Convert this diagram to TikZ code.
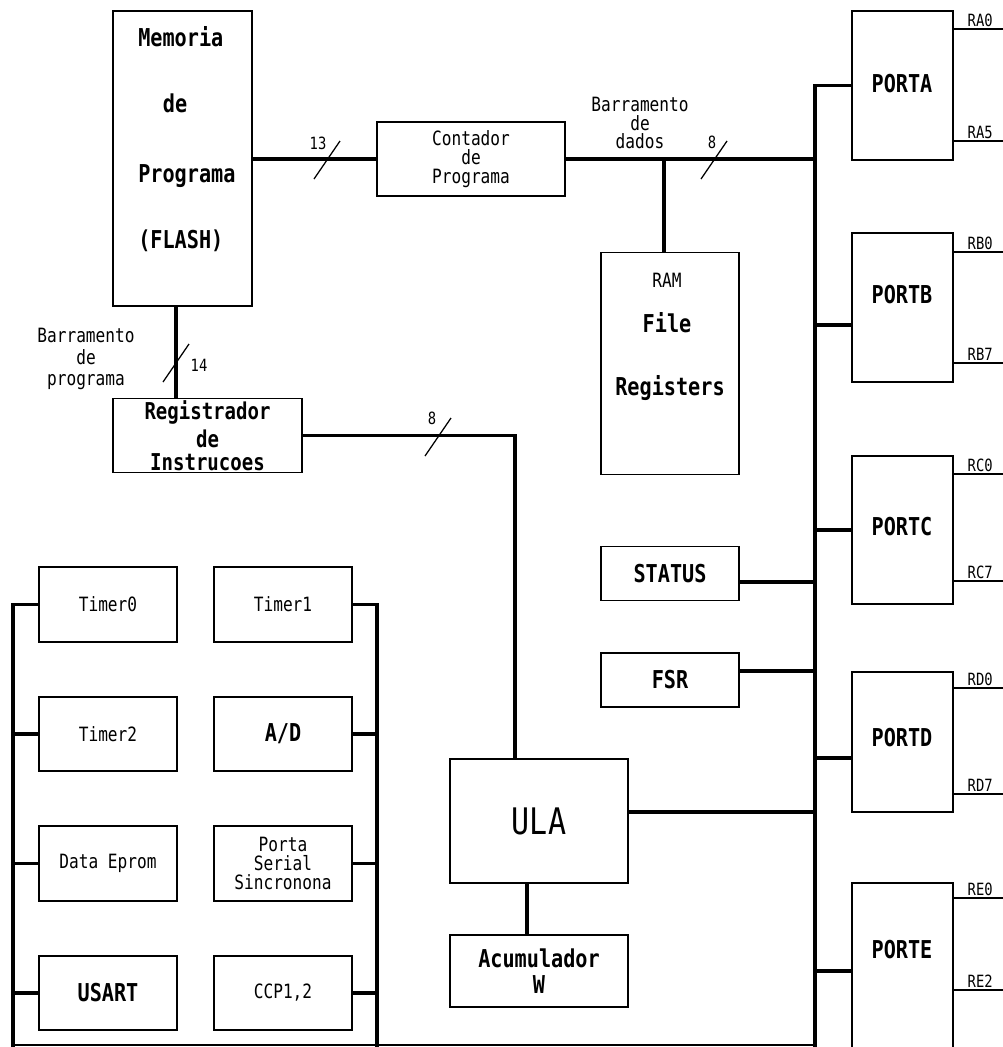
\documentclass[tikz,border=0pt]{standalone}
\usepackage{fontspec}
\newfontfamily\cadfont[FakeStretch=0.82]{DejaVu Sans Mono}
\newlength\pxu
\setlength\pxu{0.025cm}
\tikzset{
  box/.style={draw, line width=1.1pt, inner sep=0pt, align=center},
  bus/.style={line width=2.8pt},
  pbus/.style={line width=2.3pt},
  pin/.style={line width=1.2pt},
  slash/.style={line width=0.9pt},
  bigtxt/.style={font=\cadfont\bfseries\fontsize{17.5}{13.5}\selectfont, inner sep=0pt, align=center},
  smalltxt/.style={font=\cadfont\fontsize{14}{13.3}\selectfont, inner sep=0pt, align=center},
  pintxt/.style={font=\cadfont\fontsize{12}{12}\selectfont, inner sep=1pt},
  ulatxt/.style={font=\cadfont\fontsize{26}{26}\selectfont, inner sep=0pt},
}

\begin{document}
\begin{tikzpicture}[x=0.025cm, y=-0.025cm]
	\useasboundingbox (0,0) rectangle (1003,1047);
	\clip (0,0) rectangle (1003,1047);

	% memoria de programa e contador
	\node[box, minimum width=139\pxu, minimum height=295\pxu] (mem) at (182.5,158.5) {};
	\node[bigtxt, anchor=west] (memt1) at (138,37) {Memoria};
	\node[bigtxt] (memt2) at (175,103) {de};
	\node[bigtxt, anchor=west] (memt3) at (138,176) {Programa};
	\node[bigtxt, anchor=west] (memt4) at (138,241) {(FLASH)};
	\node[box, smalltxt, minimum width=188\pxu, minimum height=74\pxu] (pc) at (471,159) {Contador\\de\\Programa};

	% ram
	\node[box, minimum width=138\pxu, minimum height=222\pxu] (ram) at (670,363.5) {};
	\node[smalltxt] (ramt1) at (667,280) {RAM};
	\node[bigtxt] (ramt2) at (667,323) {File};
	\node[bigtxt] (ramt3) at (670,388) {Registers};

	\node[box, bigtxt, font=\cadfont\bfseries\fontsize{16.5}{13}\selectfont, minimum width=189\pxu, minimum height=74\pxu] (reg) at (207.5,435.5) {Registrador\\[3pt]de\\[3pt]Instrucoes};
	\node[box, bigtxt, minimum width=138\pxu, minimum height=54\pxu] (status) at (670,573.5) {STATUS};
	\node[box, bigtxt, minimum width=138\pxu, minimum height=54\pxu] (fsr) at (670,680) {FSR};
	\node[box, ulatxt, minimum width=178\pxu, minimum height=124\pxu] (ula) at (539,821) {ULA};
	\node[box, bigtxt, minimum width=178\pxu, minimum height=72\pxu] (acc) at (539,971) {Acumulador\\[5pt]W};

	% portas
	\node[box, minimum width=101\pxu, minimum height=149\pxu] (porta) at (902.5,85.5) {};
	\node[box, minimum width=101\pxu, minimum height=149\pxu] (portb) at (902.5,307.5) {};
	\node[box, minimum width=101\pxu, minimum height=148\pxu] (portc) at (902.5,530) {};
	\node[box, minimum width=101\pxu, minimum height=140\pxu] (portd) at (902.5,742) {};
	\node[box, minimum width=101\pxu, minimum height=214\pxu] (porte) at (902.5,990) {};
	\node[bigtxt] (portat) at (902,84) {PORTA};
	\node[bigtxt] (portbt) at (902,295) {PORTB};
	\node[bigtxt] (portct) at (902,527) {PORTC};
	\node[bigtxt] (portdt) at (902,738) {PORTD};
	\node[bigtxt] (portet) at (902,950) {PORTE};

	% perifericos
	\node[box, smalltxt, minimum width=138\pxu, minimum height=75\pxu] (tmr0) at (108,604.5) {Timer0};
	\node[box, smalltxt, minimum width=138\pxu, minimum height=75\pxu] (tmr1) at (283,604.5) {Timer1};
	\node[box, smalltxt, minimum width=138\pxu, minimum height=74\pxu] (tmr2) at (108,734) {Timer2};
	\node[box, bigtxt, minimum width=138\pxu, minimum height=74\pxu] (ad) at (283,734) {A/D};
	\node[box, smalltxt, minimum width=138\pxu, minimum height=75\pxu] (eprom) at (108,863.5) {Data Eprom};
	\node[box, smalltxt, minimum width=138\pxu, minimum height=75\pxu] (serial) at (283,863.5) {Porta\\Serial\\Sincronona};
	\node[box, bigtxt, minimum width=138\pxu, minimum height=74\pxu] (usart) at (108,993) {USART};
	\node[box, smalltxt, minimum width=138\pxu, minimum height=74\pxu] (ccp) at (283,993) {CCP1,2};

	% barramentos
	\coordinate (busend) at (815,1060);
	\coordinate (tram) at (664,160);
	\coordinate (tprog) at (176,0);
	\coordinate (tula) at (515,0);
	\coordinate (tacc) at (527,0);
	\coordinate (tpb) at (815,325);
	\coordinate (tpc) at (815,530);
	\coordinate (tpd) at (815,758);
	\coordinate (tpe) at (815,971);
	\coordinate (tstat) at (815,582);
	\coordinate (tfsr) at (815,671);
	\coordinate (tul) at (815,812);
	\draw[bus] (pc.west -| mem.east) -- (pc.west);
	\draw[bus] (pc.east) -- (pc.east -| busend);
	\draw[bus] (tram) -- (tram |- ram.north);
	\draw[bus] (mem.south -| tprog) -- (reg.north -| tprog);
	\draw[bus] (reg.east) -| (ula.north -| tula);
	\draw[bus] (ula.south -| tacc) -- (acc.north -| tacc);
	\draw[bus] (porta.west) -| (busend);
	\draw[bus] (tpb) -- (tpb -| portb.west);
	\draw[bus] (tpc) -- (tpc -| portc.west);
	\draw[bus] (tpd) -- (tpd -| portd.west);
	\draw[bus] (tpe) -- (tpe -| porte.west);
	\draw[bus] (tstat) -- (tstat -| status.east);
	\draw[bus] (tfsr) -- (tfsr -| fsr.east);
	\draw[bus] (tul) -- (tul -| ula.east);

	\coordinate (lbend) at (13,1060);
	\coordinate (rbend) at (377,1060);
	\draw[pbus] (tmr0.west) -| (lbend);
	\draw[pbus] (tmr2.west) -- (tmr2.west -| lbend);
	\draw[pbus] (eprom.west) -- (eprom.west -| lbend);
	\draw[pbus] (usart.west) -- (usart.west -| lbend);
	\draw[pbus] (tmr1.east) -| (rbend);
	\draw[pbus] (ad.east) -- (ad.east -| rbend);
	\draw[pbus] (serial.east) -- (serial.east -| rbend);
	\draw[pbus] (ccp.east) -- (ccp.east -| rbend);
	\coordinate (botl) at (13,1045);
	\coordinate (botr) at (815,1045);
	\draw[line width=1pt] (botl) -- (botr);

	% largura dos barramentos
	\coordinate (s13) at (327,160);
	\coordinate (s8a) at (714,160);
	\coordinate (s14) at (176,363);
	\coordinate (s8b) at (438,437);
	\draw[slash] (s13) +(-13,19) -- +(13,-19);
	\draw[slash] (s8a) +(-13,19) -- +(13,-19);
	\draw[slash] (s14) +(-13,19) -- +(13,-19);
	\draw[slash] (s8b) +(-13,19) -- +(13,-19);
	\node[pintxt] (l13) at (318,143) {13};
	\node[pintxt] (l8a) at (712,142) {8};
	\node[pintxt] (l14) at (199,365) {14};
	\node[pintxt] (l8b) at (432,418) {8};
	\node[smalltxt] (lbd) at (640,123) {Barramento\\de\\dados};
	\node[smalltxt] (lbp) at (86,359) {Barramento\\[2pt]de\\[2pt]programa};

	% pinos
	\coordinate (ra0) at (1010,29);
	\coordinate (ra5) at (1010,141);
	\coordinate (rb0) at (1010,252);
	\coordinate (rb7) at (1010,363);
	\coordinate (rc0) at (1010,474);
	\coordinate (rc7) at (1010,581);
	\coordinate (rd0) at (1010,688);
	\coordinate (rd7) at (1010,794);
	\coordinate (re0) at (1010,898);
	\coordinate (re2) at (1010,990);
	\draw[pin] (porta.east |- ra0) -- (ra0) node[pintxt, above, pos=0.47] (ra0t) {RA0};
	\draw[pin] (porta.east |- ra5) -- (ra5) node[pintxt, above, pos=0.47] (ra5t) {RA5};
	\draw[pin] (portb.east |- rb0) -- (rb0) node[pintxt, above, pos=0.47] (rb0t) {RB0};
	\draw[pin] (portb.east |- rb7) -- (rb7) node[pintxt, above, pos=0.47] (rb7t) {RB7};
	\draw[pin] (portc.east |- rc0) -- (rc0) node[pintxt, above, pos=0.47] (rc0t) {RC0};
	\draw[pin] (portc.east |- rc7) -- (rc7) node[pintxt, above, pos=0.47] (rc7t) {RC7};
	\draw[pin] (portd.east |- rd0) -- (rd0) node[pintxt, above, pos=0.47] (rd0t) {RD0};
	\draw[pin] (portd.east |- rd7) -- (rd7) node[pintxt, above, pos=0.47] (rd7t) {RD7};
	\draw[pin] (porte.east |- re0) -- (re0) node[pintxt, above, pos=0.47] (re0t) {RE0};
	\draw[pin] (porte.east |- re2) -- (re2) node[pintxt, above, pos=0.47] (re2t) {RE2};
\end{tikzpicture}
\end{document}
